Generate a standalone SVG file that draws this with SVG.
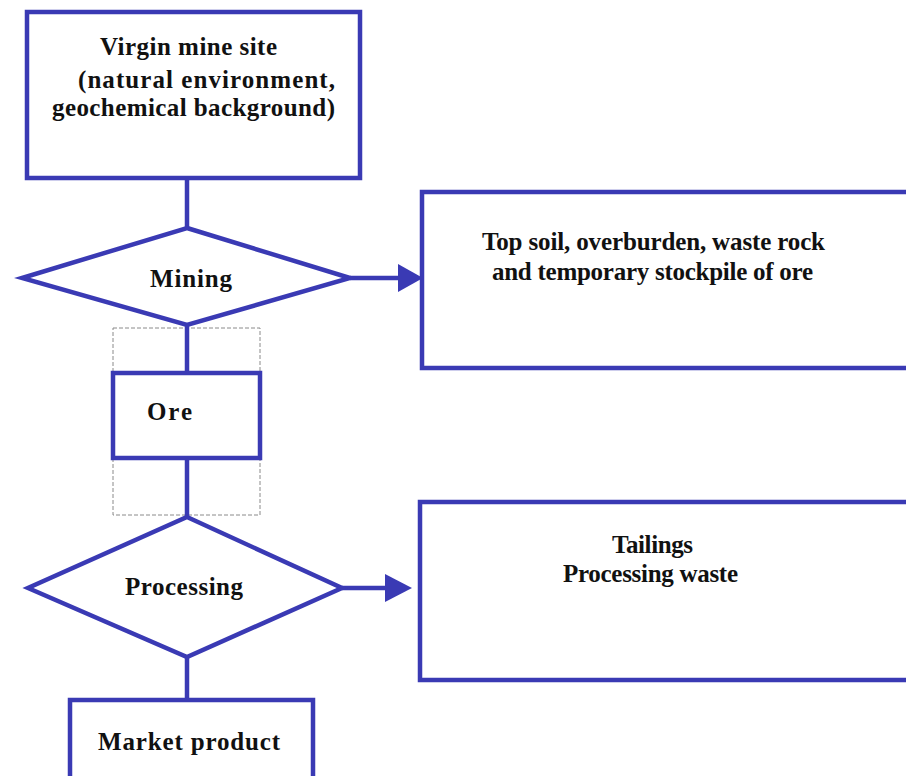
<svg xmlns="http://www.w3.org/2000/svg" width="906" height="776" viewBox="0 0 906 776">
<style>
.box{fill:#fff;stroke:#3a3ab4;stroke-width:4.5}
.con{stroke:#3a3ab4;stroke-width:4.5;fill:none}
.head{fill:#3a3ab4}
.dash{fill:none;stroke:#8a8a8a;stroke-width:1;stroke-dasharray:4 2}
text{font-family:"Liberation Serif","Times New Roman",serif;font-weight:bold;font-size:25px;fill:#111}
</style>
<rect width="906" height="776" fill="#fff"/>
<g id="ore-frame"><rect class="dash" x="113" y="328" width="147" height="187"/></g>
<g id="connectors">
<line class="con" x1="187" y1="178" x2="187" y2="228"/>
<line class="con" x1="187" y1="325" x2="187" y2="373"/>
<line class="con" x1="187" y1="458" x2="187" y2="517"/>
<line class="con" x1="187" y1="657" x2="187" y2="700"/>
<line class="con" x1="350" y1="278" x2="400" y2="278"/>
<polygon class="head" points="398,264 423,278 398,292"/>
<line class="con" x1="342" y1="588" x2="387" y2="588"/>
<polygon class="head" points="385,574 412,588 385,602"/>
</g>
<g id="virgin">
<rect class="box" x="27" y="12" width="333" height="166"/>
<text x="100" y="55" textLength="177" lengthAdjust="spacing">Virgin mine site</text>
<text x="78" y="88" textLength="257" lengthAdjust="spacing">(natural environment,</text>
<text x="52" y="116" textLength="283" lengthAdjust="spacing">geochemical background)</text>
</g>
<g id="mining">
<polygon class="box" points="187,228 350,278 187,325 22,278"/>
<text x="150" y="287" textLength="82" lengthAdjust="spacing">Mining</text>
</g>
<g id="topsoil">
<rect class="box" x="422" y="192" width="500" height="176"/>
<text x="482" y="250" textLength="343" lengthAdjust="spacing">Top soil, overburden, waste rock</text>
<text x="492" y="280" textLength="321" lengthAdjust="spacing">and temporary stockpile of ore</text>
</g>
<g id="ore">
<rect class="box" x="113" y="373" width="147" height="85"/>
<text x="147" y="420" textLength="45" lengthAdjust="spacing">Ore</text>
</g>
<g id="processing">
<polygon class="box" points="187,517 342,588 187,657 28,588"/>
<text x="125" y="595" textLength="118" lengthAdjust="spacing">Processing</text>
</g>
<g id="tailings">
<rect class="box" x="420" y="502" width="500" height="178"/>
<text x="612" y="553" textLength="81" lengthAdjust="spacing">Tailings</text>
<text x="563" y="582" textLength="175" lengthAdjust="spacing">Processing waste</text>
</g>
<g id="market">
<rect class="box" x="70" y="700" width="243" height="100"/>
<text x="98" y="750" textLength="182" lengthAdjust="spacing">Market product</text>
</g>
</svg>
